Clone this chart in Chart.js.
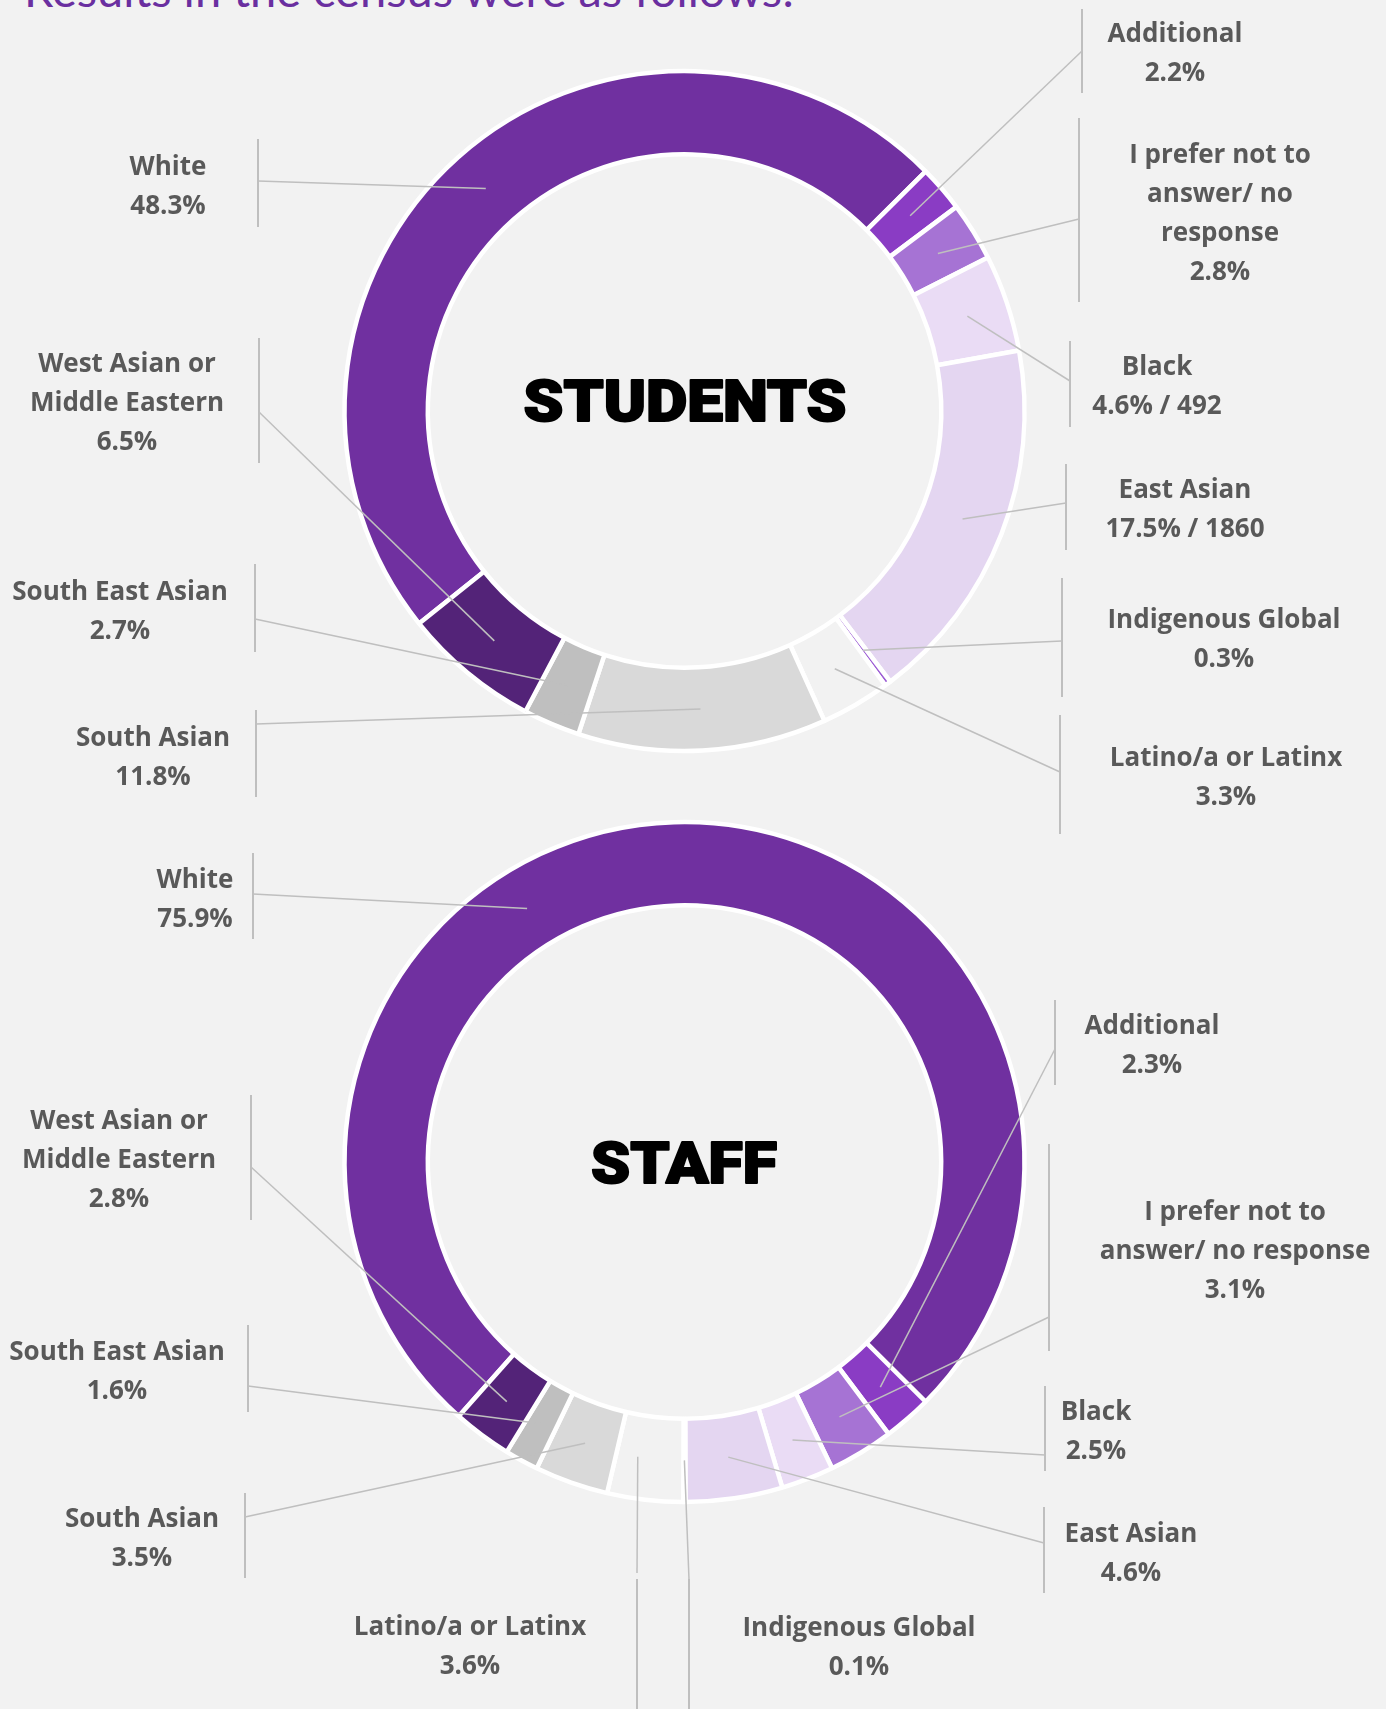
<!DOCTYPE html>
<html>
<head>
<meta charset="utf-8">
<script src="https://cdn.jsdelivr.net/npm/chart.js@4.4.0/dist/chart.umd.min.js"></script>
<style>
  html, body { margin: 0; padding: 0; background: #f2f2f2; }
  body { width: 1386px; height: 1709px; position: relative; overflow: hidden; }
  #title {
    position: absolute; left: 24px; top: -34px;
    font: 47px Lato, "Open Sans", sans-serif; line-height: 47px;
    color: #6a2fa0; white-space: nowrap;
  }
  canvas { position: absolute; left: 0; }
  #studentsChart { top: 0; }
  #staffChart { top: 780px; }
</style>
</head>
<body>
<div id="title">Results in the census were as follows:</div>
<canvas id="studentsChart" width="1386" height="860"></canvas>
<canvas id="staffChart" width="1386" height="929"></canvas>
<script>
// categories in drawing order (clockwise, starting with White)
var categories = ['White', 'Additional', 'I prefer not to answer/ no response', 'Black', 'East Asian',
    'Indigenous Global', 'Latino/a or Latinx', 'South Asian', 'South East Asian', 'West Asian or Middle Eastern'];
var studentValues = [48.3, 2.2, 2.8, 4.6, 17.5, 0.3, 3.3, 11.8, 2.7, 6.5];
var studentCounts = [null, null, null, 492, 1860, null, null, null, null, null];
var staffValues = [75.9, 2.3, 3.1, 2.5, 4.6, 0.1, 3.6, 3.5, 1.6, 2.8];

var colors = ['#7030a0', '#8a3cc4', '#a673d4', '#eadcf5', '#e4d6f1',
    '#9b5ad4', '#f2f2f2', '#d9d9d9', '#bfbfbf', '#532378'];

// how each category name wraps in the callouts
var studentNameLines = [['White'], ['Additional'], ['I prefer not to', 'answer/ no', 'response'], ['Black'], ['East Asian'],
    ['Indigenous Global'], ['Latino/a or Latinx'], ['South Asian'], ['South East Asian'], ['West Asian or', 'Middle Eastern']];
var staffNameLines = [['White'], ['Additional'], ['I prefer not to', 'answer/ no response'], ['Black'], ['East Asian'],
    ['Indigenous Global'], ['Latino/a or Latinx'], ['South Asian'], ['South East Asian'], ['West Asian or', 'Middle Eastern']];

// callout placement (page pixels): text centre x, first line y, bar x, bar top/bottom, join y
// optional "at": where along the slice the leader starts (0..1), default middle
var studentCallouts = [
    {x: 168, y: 168, bx: 258, b0: 139, b1: 227, j: 181},
    {x: 1175, y: 35, bx: 1082, b0: 9, b1: 93, j: 51},
    {x: 1220, y: 156, bx: 1079, b0: 118, b1: 302, j: 219},
    {x: 1157, y: 368, bx: 1070, b0: 341, b1: 427, j: 381},
    {x: 1185, y: 491, bx: 1066, b0: 464, b1: 550, j: 503},
    {x: 1224, y: 621, bx: 1062, b0: 578, b1: 697, j: 641},
    {x: 1226, y: 759, bx: 1060, b0: 715, b1: 834, j: 772},
    {x: 153, y: 739, bx: 256, b0: 710, b1: 797, j: 724},
    {x: 120, y: 593, bx: 255, b0: 564, b1: 652, j: 619},
    {x: 127, y: 365, bx: 259, b0: 338, b1: 463, j: 412}
];
var staffCallouts = [
    {x: 195, y: 881, bx: 253, b0: 853, b1: 939, j: 894, at: 0.39},
    {x: 1152, y: 1027, bx: 1055, b0: 1000, b1: 1085, j: 1049},
    {x: 1235, y: 1213, bx: 1049, b0: 1144, b1: 1351, j: 1317},
    {x: 1096, y: 1413, bx: 1045, b0: 1386, b1: 1471, j: 1455},
    {x: 1131, y: 1535, bx: 1044, b0: 1507, b1: 1593, j: 1543},
    {x: 859, y: 1629, bx: 689, b0: 1579, b1: 1709, j: 1579},
    {x: 470, y: 1628, bx: 637, b0: 1579, b1: 1709, j: 1573, at: 0.68},
    {x: 142, y: 1520, bx: 245, b0: 1493, b1: 1578, j: 1517},
    {x: 117, y: 1353, bx: 248, b0: 1325, b1: 1412, j: 1386},
    {x: 119, y: 1122, bx: 251, b0: 1095, b1: 1220, j: 1167}
];

function anchorPoint(arc, at) {
    var a = arc.startAngle + (arc.endAngle - arc.startAngle) * at;
    var r = (arc.innerRadius + arc.outerRadius) / 2;
    return {x: arc.x + Math.cos(a) * r, y: arc.y + Math.sin(a) * r};
}

// plugin built per chart so the settings stay plain objects
function calloutPlugin(o) {
    return {
        id: 'callouts',
        afterDatasetsDraw: function (chart) {
            var ctx = chart.ctx;
            var top = o.top;
            var meta = chart.getDatasetMeta(0);
            var values = o.values;
            ctx.save();
            ctx.strokeStyle = '#bfbfbf';
            meta.data.forEach(function (arc, i) {
                var c = o.callouts[i];
                var p = anchorPoint(arc, typeof c.at === 'number' ? c.at : 0.5);
                ctx.lineWidth = 1.5;
                ctx.beginPath();
                ctx.moveTo(p.x, p.y);
                ctx.lineTo(c.bx, c.j - top);
                ctx.stroke();
                ctx.lineWidth = 2;
                ctx.beginPath();
                ctx.moveTo(c.bx, c.b0 - top);
                ctx.lineTo(c.bx, c.b1 - top);
                ctx.stroke();

                var lines = o.names[i].slice();
                var valText = values[i].toFixed(1) + '%';
                if (o.counts && o.counts[i] != null) valText += ' / ' + o.counts[i];
                lines.push(valText);
                ctx.fillStyle = '#595959';
                ctx.font = 'bold 26px "Open Sans"';
                ctx.textAlign = 'center';
                ctx.textBaseline = 'middle';
                lines.forEach(function (t, k) {
                    ctx.fillText(t, c.x, c.y - top + k * 39);
                });
            });

            // centre title, baseline on the cap bottom
            ctx.fillStyle = '#000';
            ctx.strokeStyle = '#000';
            ctx.lineWidth = 2;
            ctx.lineJoin = 'round';
            ctx.font = '900 57px Roboto, Lato, "DejaVu Sans"';
            ctx.textAlign = 'center';
            ctx.textBaseline = 'alphabetic';
            var w = ctx.measureText(o.center).width;
            var sx = o.centerWidth / w;
            ctx.translate(o.cx, o.baseY - top);
            ctx.scale(sx, 1);
            ctx.fillText(o.center, 0, 0);
            ctx.strokeText(o.center, 0, 0);
            ctx.restore();
        }
    };
}

function makeDonut(id, values, rotation, padding, pluginOpts) {
    var ctx = document.getElementById(id).getContext('2d');
    pluginOpts.values = values;
    return new Chart(ctx, {
        type: 'doughnut',
        data: {
            labels: categories,
            datasets: [{
                data: values,
                backgroundColor: colors,
                borderColor: '#ffffff',
                borderWidth: 4.5,
                clip: false
            }]
        },
        options: {
            responsive: false,
            animation: false,
            rotation: rotation,
            radius: 340,
            cutout: '75.5%',
            layout: { padding: padding },
            plugins: {
                legend: { display: false },
                tooltip: { enabled: false }
            }
        },
        plugins: [calloutPlugin(pluginOpts)]
    });
}

makeDonut('studentsChart', studentValues, 231.3, {left: 0, right: 17, top: 0, bottom: 38}, {
    top: 0, callouts: studentCallouts, names: studentNameLines, counts: studentCounts,
    center: 'STUDENTS', cx: 685, baseY: 421, centerWidth: 323
});
makeDonut('staffChart', staffValues, 221.6, {left: 0, right: 17, top: 0, bottom: 165}, {
    top: 780, callouts: staffCallouts, names: staffNameLines, counts: null,
    center: 'STAFF', cx: 684, baseY: 1183, centerWidth: 186
});
</script>
</body>
</html>
